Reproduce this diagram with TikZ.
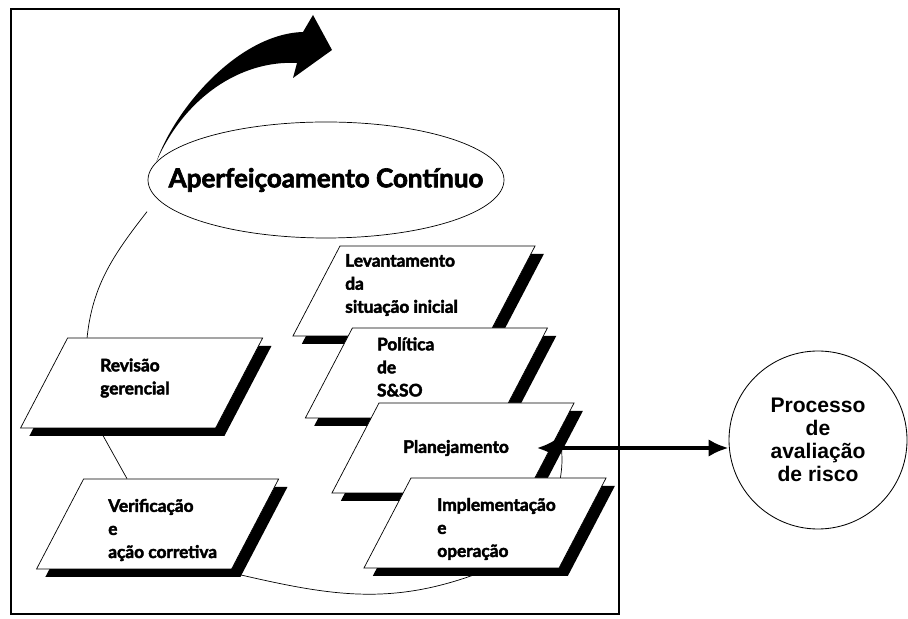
\documentclass[tikz,border=0pt]{standalone}
\usepackage{fontspec}
\setmainfont{Lato}[BoldFeatures={FakeBold=2.5}]
\newfontfamily\arialbold{Liberation Sans}
\usetikzlibrary{shapes.geometric,shadows,arrows.meta,backgrounds}

\begin{document}
\begin{tikzpicture}[
    etapa/.style={trapezium, trapezium left angle=62.4, trapezium right angle=117.6,
        draw=black, line width=0.5pt, fill=white, text width=3.7cm, text height=2.25cm, text depth=0pt, inner sep=0pt,
        drop shadow={shadow xshift=0.22cm, shadow yshift=-0.2cm, fill=black, opacity=1}},
    rotulo/.style={anchor=west, align=left, inner sep=0pt, font=\fontsize{12.3}{16.4}\selectfont\bfseries},
    ciclo/.style={line width=0.5pt}
]
    \useasboundingbox (0,0) rectangle (22.7,15.45);
    % Moldura
    \draw[line width=2.1pt] (0.275,0.1) rectangle (15.475,15.225);

    % Etapas
    \node[ellipse, draw, fill=white, line width=0.5pt, inner sep=0pt, minimum width=8.9cm, minimum height=2.9cm,
        font=\fontsize{18.5}{20}\selectfont\bfseries] (aperf) at (8.15,10.95) {\makebox[0pt]{Aperfeiçoamento Contínuo}};
    \node[etapa] (lev) at (10.35,8.175) {};
    \node[rotulo] (levT) at ([xshift=-1.725cm, yshift=0.15cm]lev.center) {Levantamento\\da\\situação inicial};
    \node[etapa] (pol) at (10.66,6.125) {};
    \node[rotulo] (polT) at ([xshift=-1.24cm, yshift=0.15cm]pol.center) {Política\\de\\S\&SO};
    \node[etapa] (plan) at (11.325,4.25) {};
    \node[rotulo] (planT) at ([xshift=-1.25cm]plan.center) {Planejamento};
    \node[etapa] (impl) at (12.125,2.375) {};
    \node[rotulo] (implT) at ([xshift=-1.2cm, yshift=-0.15cm]impl.center) {Implementação\\e\\operação};
    \node[etapa] (rev) at (3.54,5.875) {};
    \node[rotulo] (revT) at ([xshift=-1.04cm, yshift=0.125cm]rev.center) {Revisão\\gerencial};
    \node[etapa] (verif) at (3.94,2.35) {};
    \node[rotulo] (verifT) at ([xshift=-1.24cm, yshift=-0.15cm]verif.center) {Verificação\\e\\ação corretiva};

    \node[circle, draw, line width=0.6pt, minimum size=4.45cm, align=center,
        font=\arialbold\fontsize{15}{16.4}\selectfont\bfseries] (risco) at (20.45,4.45) {Processo\\de\\avaliação\\de risco};

    % Ciclo (por baixo das etapas)
    \begin{scope}[on background layer]
        \draw[ciclo] ([xshift=-0.55cm, yshift=-0.1cm]aperf.190) to[out=232, in=86] ([xshift=0.475cm, yshift=-0.2cm]rev.top left corner);
        \draw[ciclo] ([xshift=1.975cm]rev.bottom left corner) -- ([xshift=1.09cm]verif.top left corner);
        \draw[ciclo] ([xshift=0.16cm, yshift=-0.125cm]verif.bottom right corner) to[out=-13, in=200]
            ([xshift=2.8cm, yshift=-0.15cm]impl.bottom left corner);
        \draw[ciclo] ([xshift=2.7cm, yshift=0.1cm]plan.center) to[bend left=8]
            ([xshift=3.725cm, yshift=-0.1cm]impl.top left corner);
    \end{scope}

    % Seta de melhoria
    \fill (aperf.174) .. controls (4.39,12.77) and (5.975,14.6) .. (7.575,14.65)
        -- (7.825,15.075) -- (8.3,14.2) -- (7.325,13.5) -- (7.425,13.875)
        .. controls (6.0,13.95) and (4.6,13.0) .. (aperf.174) -- cycle;

    % Ligacao com a avaliacao de risco
    \draw[{Latex[length=5mm,width=4.8mm]}-{Latex[length=5mm,width=4.4mm]}, line width=2.8pt]
        ([xshift=2.1cm]plan.center) -- (risco.west |- plan.center);
\end{tikzpicture}
\end{document}
